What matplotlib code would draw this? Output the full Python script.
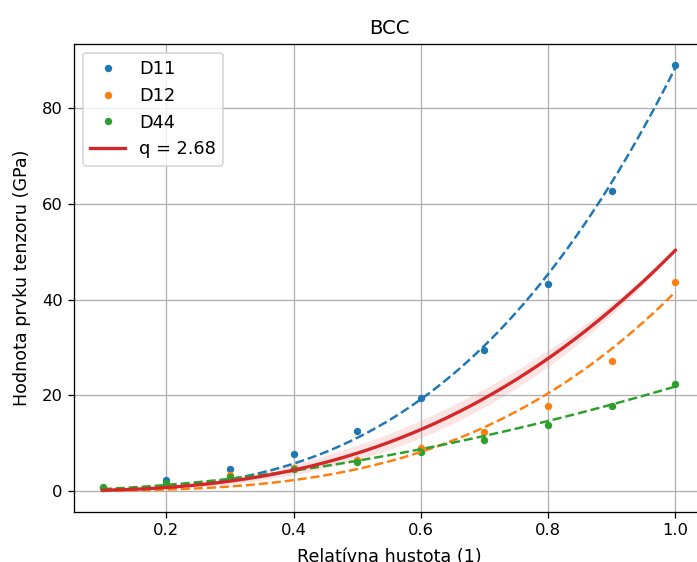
import matplotlib

matplotlib.use("Agg", force=True)
import matplotlib.pyplot as plt
import numpy as np

# relative density of the BCC lattice samples
density = [0.1, 0.2, 0.3, 0.4, 0.5, 0.6, 0.7, 0.8, 0.9, 1.0]

# stiffness tensor components (GPa)
d11 = [0.5, 2.3, 4.6, 7.7, 12.4, 19.5, 29.4, 43.2, 62.7, 89.0]
d12 = [0.5, 1.5, 3.2, 4.8, 6.5, 9.0, 12.2, 17.8, 27.2, 43.6]
d44 = [0.8, 1.7, 2.8, 4.6, 6.1, 8.1, 10.6, 13.8, 17.8, 22.4]

# fitted power laws D = C * rho^n for each component
fit_c = [88.5, 41.6, 21.8]
fit_n = [3.0, 3.2, 1.8]

# common scaling E = C * rho^q with its spread in q
q_exp = 2.68
q_std = 0.28
scale_c = 50.3

labels = ["D11", "D12", "D44"]
colors = ["tab:blue", "tab:orange", "tab:green"]
series = [d11, d12, d44]

DPI = 118
fig = plt.figure(figsize=(697 / DPI, 562 / DPI), dpi=DPI)
ax = fig.add_axes([74 / 697, 1 - 512 / 562, 630 / 697, 468 / 562])

x = np.asarray(density)
xs = np.linspace(x.min(), x.max(), 200)

for label, values, color in zip(labels, series, colors):
    ax.plot(x, values, ".", ms=7, color=color, label=label)

for c, n, color in zip(fit_c, fit_n, colors):
    ax.plot(xs, c * xs ** n, "--", color=color)

lo = scale_c * xs ** (q_exp + q_std)
hi = scale_c * xs ** (q_exp - q_std)
ax.fill_between(xs, lo, hi, color="tab:red", alpha=0.12, lw=0)
ax.plot(xs, scale_c * xs ** q_exp, "-", lw=2, color="tab:red", label=f"q = {q_exp}")

ax.set_xlim(0.055, 1.045)
ax.set_ylim(-4.45, 93.45)
ax.set_xticks([0.2, 0.4, 0.6, 0.8, 1.0])
ax.set_yticks([0, 20, 40, 60, 80])
ax.grid(True)
ax.set_title("BCC")
ax.set_xlabel("Relatívna hustota (1)", fontsize=10.7, labelpad=6)
ax.set_ylabel("Hodnota prvku tenzoru (GPa)", fontsize=10.7, labelpad=6.5)
ax.legend(loc="upper left", fontsize=10.8)

fig.savefig("out.png", dpi=DPI)
